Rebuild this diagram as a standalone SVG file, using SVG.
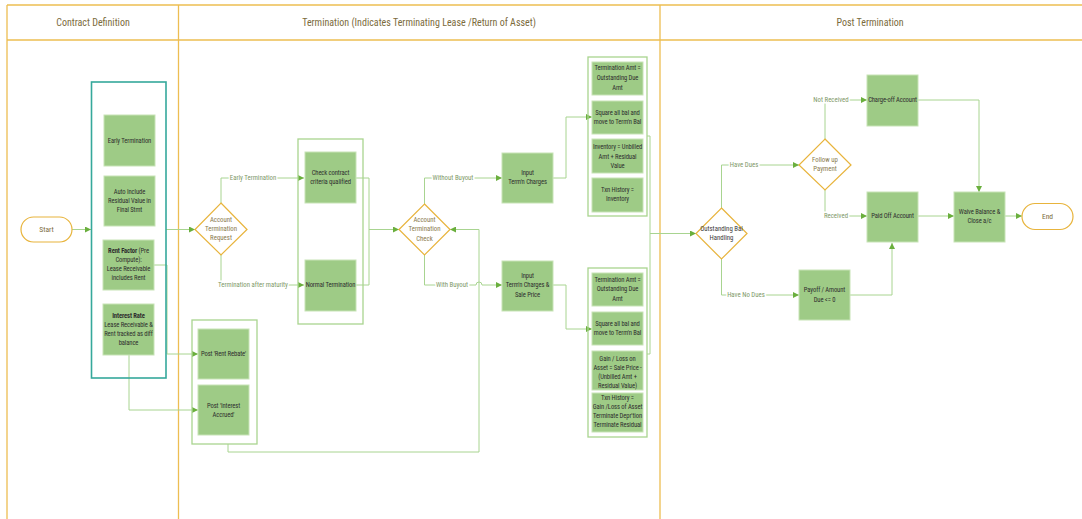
<svg xmlns="http://www.w3.org/2000/svg" width="1082" height="519" viewBox="0 0 1082 519">
<style>
text{font-family:"Liberation Sans Narrow","Roboto Condensed","Roboto","Liberation Sans",sans-serif;text-anchor:middle;dominant-baseline:central}
.lane{fill:none;stroke:#EDBE52;stroke-width:1.3}
.hdr{font-size:10px;fill:#7B6B3C}
.box{fill:#9ECB86;stroke:#C7E3B6;stroke-width:1}
.bt{font-size:6.6px;fill:#2E2E2E;letter-spacing:-0.1px}
.grp{fill:none;stroke:#A9D48F;stroke-width:1.3}
.teal{fill:none;stroke:#35A89B;stroke-width:1.6}
.dia{fill:#fff;stroke:#E8B43C;stroke-width:1.2}
.dt{font-size:6.8px;fill:#8A7A4E}
.term{fill:#fff;stroke:#E8B43C;stroke-width:1.2}
.tt{font-size:7.5px;fill:#7B6B3C}
.c{fill:none;stroke:#A8D490;stroke-width:1}
.lbl{font-size:6.8px;fill:#7E9868;stroke:#fff;stroke-width:3;paint-order:stroke}
</style>
<defs>
<marker id="ah" viewBox="0 0 6 6" refX="6" refY="3" markerWidth="6" markerHeight="6" markerUnits="userSpaceOnUse" orient="auto">
<path d="M0,0 L6,3 L0,6 z" fill="#6AAF3D"/>
</marker>
</defs>
<rect width="1082" height="519" fill="#fff"/>
<g id="pool">
<path class="lane" d="M7,5 H1082 M7,40 H1082 M7,5 V519 M178.5,5 V519 M660,5 V519"/>
<text class="hdr" x="93" y="22">Contract Definition</text>
<text class="hdr" x="419" y="22">Termination (Indicates Terminating Lease /Return of Asset)</text>
<text class="hdr" x="870" y="22">Post Termination</text>
</g>
<g id="connectors">
<path class="c" d="M72,229.5 H91" marker-end="url(#ah)"/>
<path class="c" d="M166,229.5 H195" marker-end="url(#ah)"/>
<path class="c" d="M154,265 H167 V354 H198" marker-end="url(#ah)"/>
<path class="c" d="M129,355 V410 H198" marker-end="url(#ah)"/>
<path class="c" d="M221,203 V178 H304" marker-end="url(#ah)"/>
<path class="c" d="M221,255 V285 H304" marker-end="url(#ah)"/>
<path class="c" d="M356,178 H369 V285 H356 M369,229.5 H399" marker-end="url(#ah)"/>
<path class="c" d="M424.5,204 V178 H502" marker-end="url(#ah)"/>
<path class="c" d="M424.5,255 V285 H476 A3,3 0 0 1 482,285 H502" marker-end="url(#ah)"/>
<path class="c" d="M228,444 V452 H479 V229.5 H450" marker-end="url(#ah)"/>
<path class="c" d="M553,178 H566 V117 H592" marker-end="url(#ah)"/>
<path class="c" d="M553,285 H566 V329 H592" marker-end="url(#ah)"/>
<path class="c" d="M647,136 H650 V354 H647 M650,233.5 H696" marker-end="url(#ah)"/>
<path class="c" d="M721.5,208 V165 H799" marker-end="url(#ah)"/>
<path class="c" d="M721.5,259 V295 H799" marker-end="url(#ah)"/>
<path class="c" d="M825,139 V100 H867" marker-end="url(#ah)"/>
<path class="c" d="M825,190 V216 H867" marker-end="url(#ah)"/>
<path class="c" d="M850,295 H892 V243" marker-end="url(#ah)"/>
<path class="c" d="M918,100 H979 V192" marker-end="url(#ah)"/>
<path class="c" d="M918,216 H954" marker-end="url(#ah)"/>
<path class="c" d="M1005,216 H1022" marker-end="url(#ah)"/>
<text class="lbl" x="253" y="178">Early Termination</text>
<text class="lbl" x="253" y="285">Termination after maturity</text>
<text class="lbl" x="453" y="178">Without Buyout</text>
<text class="lbl" x="452" y="285">With Buyout</text>
<text class="lbl" x="744" y="165">Have Dues</text>
<text class="lbl" x="746" y="295">Have No Dues</text>
<text class="lbl" x="831" y="100">Not Received</text>
<text class="lbl" x="836" y="216">Received</text>
</g>
<g id="start">
<rect class="term" x="21" y="217" width="51" height="25" rx="12.5"/>
<text class="tt" x="46.5" y="229.5">Start</text>
</g>
<g id="contract-options">
<rect class="teal" x="91.5" y="82" width="74.5" height="296"/>
</g>
<g id="early-termination">
<rect class="box" x="104" y="115" width="51" height="51"/>
<text class="bt" x="129.5" y="140.5">Early Termination</text>
</g>
<g id="auto-include">
<rect class="box" x="104" y="176" width="51" height="50"/>
<text class="bt" x="129.5" y="192">Auto Include</text>
<text class="bt" x="129.5" y="201">Residual Value in</text>
<text class="bt" x="129.5" y="210">Final Stmt</text>
</g>
<g id="rent-factor">
<rect class="box" x="103" y="240" width="51" height="50"/>
<text class="bt" x="128.5" y="251"><tspan font-weight="bold">Rent Factor</tspan> (Pre</text>
<text class="bt" x="128.5" y="260">Compute):</text>
<text class="bt" x="128.5" y="269">Lease Receivable</text>
<text class="bt" x="128.5" y="278">includes Rent</text>
</g>
<g id="interest-rate">
<rect class="box" x="103" y="304" width="51" height="51"/>
<text class="bt" x="128.5" y="316" font-weight="bold">Interest Rate</text>
<text class="bt" x="128.5" y="325">Lease Receivable &amp;</text>
<text class="bt" x="128.5" y="334">Rent tracked as diff</text>
<text class="bt" x="128.5" y="343">balance</text>
</g>
<g id="post-group">
<rect class="grp" x="192" y="320" width="65" height="124"/>
</g>
<g id="post-rent-rebate">
<rect class="box" x="198" y="329" width="51" height="50"/>
<text class="bt" x="223.5" y="354">Post 'Rent Rebate'</text>
</g>
<g id="post-interest-accrued">
<rect class="box" x="198" y="385" width="51" height="50"/>
<text class="bt" x="223.5" y="406">Post 'Interest</text>
<text class="bt" x="223.5" y="415">Accrued'</text>
</g>
<g id="account-termination-request">
<path class="dia" d="M221,203 L247,229.5 L221,255 L195,229.5 Z"/>
<text class="dt" x="221" y="220">Account</text>
<text class="dt" x="221" y="229">Termination</text>
<text class="dt" x="221" y="238">Request</text>
</g>
<g id="termination-type-group">
<rect class="grp" x="298" y="139" width="65" height="185"/>
</g>
<g id="check-contract">
<rect class="box" x="305" y="152" width="51" height="51"/>
<text class="bt" x="330.5" y="173">Check contract</text>
<text class="bt" x="330.5" y="182">criteria qualified</text>
</g>
<g id="normal-termination">
<rect class="box" x="305" y="260" width="51" height="51"/>
<text class="bt" x="330.5" y="285">Normal Termination</text>
</g>
<g id="account-termination-check">
<path class="dia" d="M424.5,204 L450,229.5 L424.5,255 L399,229.5 Z"/>
<text class="dt" x="424.5" y="220">Account</text>
<text class="dt" x="424.5" y="229">Termination</text>
<text class="dt" x="424.5" y="238.5">Check</text>
</g>
<g id="input-charges">
<rect class="box" x="502" y="153" width="51" height="50"/>
<text class="bt" x="527.5" y="173">Input</text>
<text class="bt" x="527.5" y="182">Term'n Charges</text>
</g>
<g id="input-charges-sale">
<rect class="box" x="502" y="261" width="51" height="50"/>
<text class="bt" x="527.5" y="276">Input</text>
<text class="bt" x="527.5" y="285">Term'n Charges &amp;</text>
<text class="bt" x="527.5" y="295">Sale Price</text>
</g>
<g id="without-buyout-group">
<rect class="grp" x="588" y="57" width="59" height="159"/>
<rect class="box" x="592" y="62" width="51" height="33"/>
<text class="bt" x="617.5" y="68">Termination Amt =</text>
<text class="bt" x="617.5" y="78">Outstanding Due</text>
<text class="bt" x="617.5" y="88">Amt</text>
<rect class="box" x="592" y="101" width="51" height="33"/>
<text class="bt" x="617.5" y="113">Square all bal and</text>
<text class="bt" x="617.5" y="122">move to Term'n Bal</text>
<rect class="box" x="592" y="139" width="51" height="34"/>
<text class="bt" x="617.5" y="147">Inventory = Unbilled</text>
<text class="bt" x="617.5" y="156.5">Amt + Residual</text>
<text class="bt" x="617.5" y="166">Value</text>
<rect class="box" x="592" y="178" width="51" height="34"/>
<text class="bt" x="617.5" y="190">Txn History =</text>
<text class="bt" x="617.5" y="199">Inventory</text>
</g>
<g id="with-buyout-group">
<rect class="grp" x="588" y="268" width="59" height="169"/>
<rect class="box" x="592" y="273" width="51" height="33"/>
<text class="bt" x="617.5" y="279.5">Termination Amt =</text>
<text class="bt" x="617.5" y="289">Outstanding Due</text>
<text class="bt" x="617.5" y="298.5">Amt</text>
<rect class="box" x="592" y="312" width="51" height="33"/>
<text class="bt" x="617.5" y="323.5">Square all bal and</text>
<text class="bt" x="617.5" y="333">move to Term'n Bal</text>
<rect class="box" x="592" y="351" width="51" height="39"/>
<text class="bt" x="617.5" y="358.5">Gain / Loss on</text>
<text class="bt" x="617.5" y="368">Asset = Sale Price -</text>
<text class="bt" x="617.5" y="377">(Unbilled Amt +</text>
<text class="bt" x="617.5" y="386">Residual Value)</text>
<rect class="box" x="592" y="393" width="51" height="39"/>
<text class="bt" x="617.5" y="397.5">Txn History =</text>
<text class="bt" x="617.5" y="406.5">Gain /Loss of Asset</text>
<text class="bt" x="617.5" y="415.5">Terminate Depr'tion</text>
<text class="bt" x="617.5" y="424.5">Terminate Residual</text>
</g>
<g id="outstanding-bal-handling">
<path class="dia" d="M721.5,208 L747,233.5 L721.5,259 L696,233.5 Z"/>
<text class="dt" x="721.5" y="229" style="fill:#3a3a3a">Outstanding Bal</text>
<text class="dt" x="721.5" y="238" style="fill:#3a3a3a">Handling</text>
</g>
<g id="follow-up-payment">
<path class="dia" d="M825,139 L851,165 L825,190 L799,165 Z"/>
<text class="dt" x="825" y="160">Follow up</text>
<text class="dt" x="825" y="169">Payment</text>
</g>
<g id="charge-off">
<rect class="box" x="867" y="75" width="51" height="51"/>
<text class="bt" x="892.5" y="100">Charge-off Account</text>
</g>
<g id="paid-off">
<rect class="box" x="867" y="192" width="51" height="50"/>
<text class="bt" x="892.5" y="216">Paid Off Account</text>
</g>
<g id="payoff">
<rect class="box" x="799" y="270" width="51" height="50"/>
<text class="bt" x="824.5" y="290">Payoff / Amount</text>
<text class="bt" x="824.5" y="299.5">Due &lt;= 0</text>
</g>
<g id="waive-close">
<rect class="box" x="954" y="192" width="51" height="50"/>
<text class="bt" x="979.5" y="212">Waive Balance &amp;</text>
<text class="bt" x="979.5" y="221">Close a/c</text>
</g>
<g id="end">
<rect class="term" x="1022" y="203.5" width="51" height="26" rx="13"/>
<text class="tt" x="1047.5" y="216.5">End</text>
</g>
</svg>
